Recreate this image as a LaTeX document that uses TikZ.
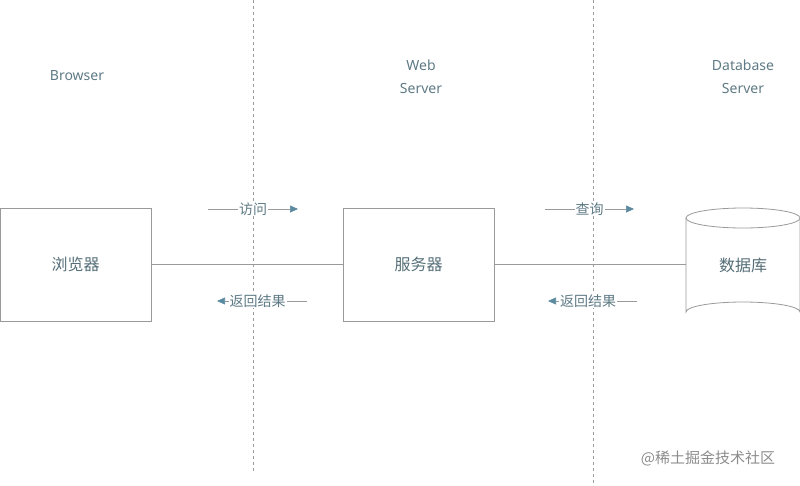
\documentclass[tikz,border=0pt]{standalone}
\usepackage{fontspec}
\setmainfont{Noto Sans}
\newfontfamily\cjk{Noto Sans CJK SC}
\usetikzlibrary{arrows.meta}
\definecolor{txt}{HTML}{5E7A85}
\definecolor{ln}{HTML}{9A9A9A}
\definecolor{ah}{HTML}{5B8AA0}
\begin{document}
\begin{tikzpicture}[x=1pt,y=-1pt,
  box/.style={draw=ln,line width=0.8pt,minimum width=151pt,minimum height=113pt,inner sep=0pt,font=\cjk\fontsize{16}{18}\selectfont,text=txt!90!black},
  lbl/.style={font=\fontsize{14}{23}\selectfont,text=txt,align=center},
  flow/.style={draw=ln,line width=0.6pt,-{Triangle[length=8pt,width=7pt,fill=ah,color=ah]}},
  flab/.style={fill=white,inner sep=1pt,font=\cjk\fontsize{14}{16}\selectfont,text=txt},
  sep/.style={draw=ln,dashed,line width=0.6pt}]
\useasboundingbox (0,0) rectangle (800,485);
\draw[sep] (253,0) -- (253,472);
\draw[sep] (593,0) -- (593,485);
\node[box] (b) at (75.5,264.5) {浏览器};
\node[box] (s) at (418.5,264.5) {服务器};
% cylinder
\draw[ln,line width=0.8pt,fill=white] (686,218) -- (686,312) arc[start angle=180,end angle=360,x radius=57,y radius=10] -- (800,218);
\draw[ln,line width=0.8pt] (743,218) ellipse[x radius=57,y radius=10];
\node[minimum width=114pt,minimum height=113pt,inner sep=0pt,font=\cjk\fontsize{16}{18}\selectfont,text=txt!90!black] (d) at (743,265) {数据库};
\draw[ln,line width=0.8pt] (b.east) -- (s.west);
\draw[ln,line width=0.8pt] (s.east) -- (s.east -| d.west);
\node[lbl] (l1) at (77,76) {Browser};
\node[lbl] (l2) at (421,77) {Web\\Server};
\node[lbl] (l3) at (743,77) {Database\\Server};
\coordinate (a1) at (208,209); \coordinate (a2) at (298,209);
\draw[flow] (a1) -- node[flab]{访问} (a2);
\coordinate (a3) at (307,301); \coordinate (a4) at (217,301);
\draw[flow] (a3) -- node[flab,pos=0.55]{返回结果} (a4);
\coordinate (a5) at (545,209); \coordinate (a6) at (634,209);
\draw[flow] (a5) -- node[flab]{查询} (a6);
\coordinate (a7) at (637,301); \coordinate (a8) at (548,301);
\draw[flow] (a7) -- node[flab,pos=0.55]{返回结果} (a8);
\node[font=\cjk\fontsize{15}{17}\selectfont,text=gray!90] (w) at (708,458) {@稀土掘金技术社区};
\end{tikzpicture}
\end{document}
